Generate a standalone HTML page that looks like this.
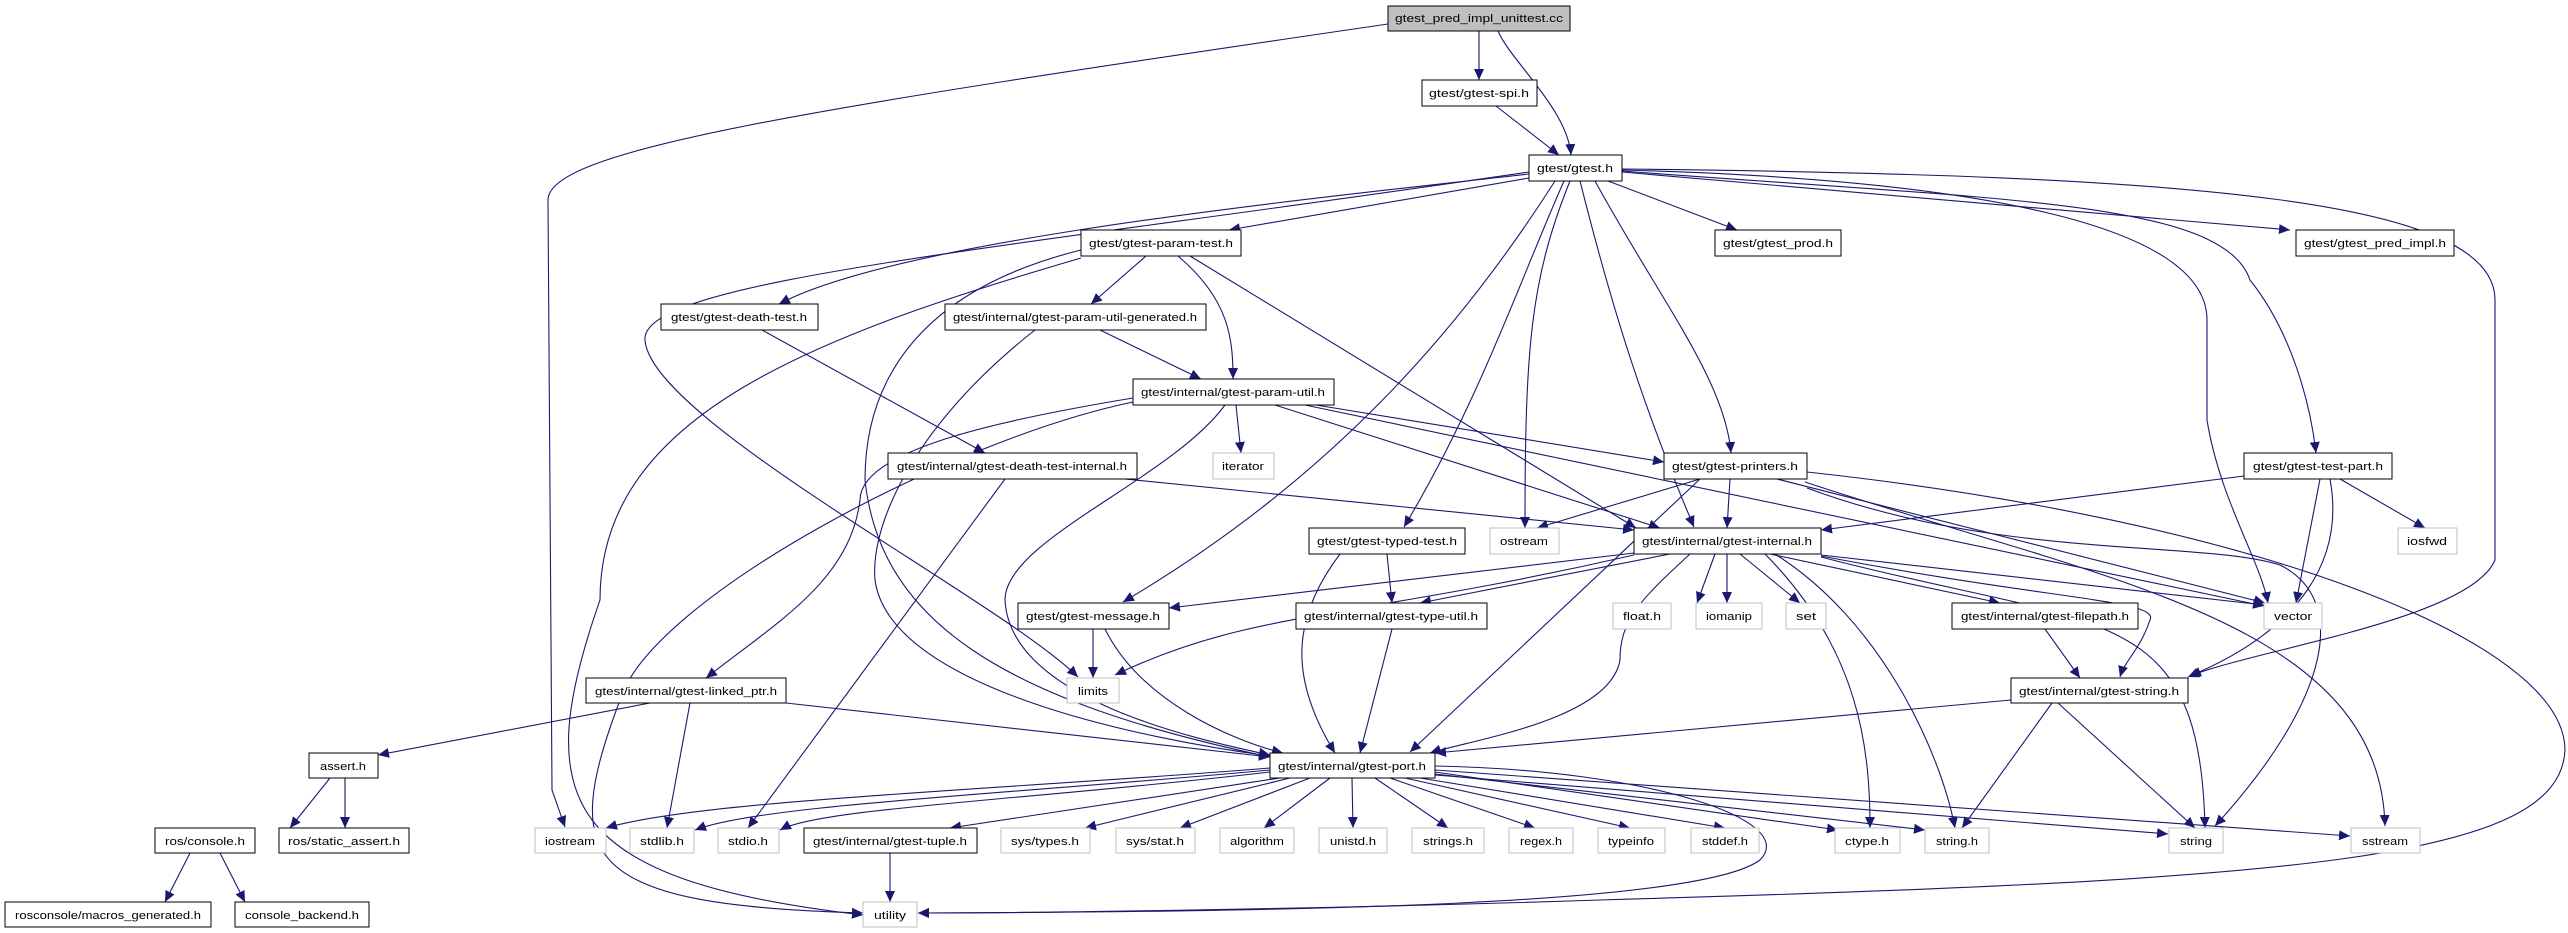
<!DOCTYPE html>
<html><head><meta charset="utf-8"><style>
html,body{margin:0;padding:0;background:#fff;}
svg{display:block;}
text{font-family:"Liberation Sans",sans-serif;font-size:11px;fill:#000;}
</style></head><body>
<svg width="2568" height="933" viewBox="0 0 2568 933" xmlns="http://www.w3.org/2000/svg">
<defs>
<marker id="a" markerUnits="userSpaceOnUse" markerWidth="12" markerHeight="10" refX="11" refY="5" orient="auto">
<path d="M0,0 L11,5 L0,10 z" fill="#191970"/>
</marker>
</defs>
<g fill="none" stroke="#191970" stroke-width="1.1" marker-end="url(#a)">
<!-- root -->
<path d="M1388,24 C800,110 548,150 548,200 L552,790 L565,827"/>
<path d="M1479,31 L1479,80"/>
<path d="M1498,31 C1510,60 1568,110 1571,155"/>
<path d="M1496,106 L1559,155"/>
<!-- gtest.h -->
<path d="M1529,178 L1229,230"/>
<path d="M1529,174 C1300,200 900,240 779,304"/>
<path d="M1529,172 C1000,250 640,280 645,340 C650,420 1000,600 1078,677"/>
<path d="M1555,181 C1460,330 1330,480 1123,602"/>
<path d="M1564,181 C1520,280 1480,400 1404,527"/>
<path d="M1570,181 C1530,280 1525,350 1525,528"/>
<path d="M1580,181 C1610,300 1640,400 1694,527"/>
<path d="M1595,181 C1660,300 1725,380 1731,453"/>
<path d="M1608,181 L1737,230"/>
<path d="M1622,172 L2290,230"/>
<path d="M1622,170 C2000,180 2207,230 2207,320 L2207,420 C2220,500 2260,560 2268,603"/>
<path d="M1622,171 C2000,200 2223,200 2250,280 C2290,330 2310,400 2316,453"/>
<path d="M1622,169 C2200,175 2495,200 2495,300 L2495,560 C2470,620 2250,650 2188,677"/>
<!-- param-test -->
<path d="M1081,250 C920,290 865,380 865,480 C880,620 1000,700 1270,757"/>
<path d="M1081,258 C800,340 600,420 600,600 C530,800 560,880 863,915"/>
<path d="M1146,256 L1091,304"/>
<path d="M1178,256 C1230,300 1233,340 1233,379"/>
<path d="M1190,256 L1636,528"/>
<!-- death-test -->
<path d="M762,330 L985,453"/>
<!-- generated -->
<path d="M1100,330 L1201,379"/>
<path d="M1035,330 C920,420 870,520 875,580 C890,690 1150,740 1270,756"/>
<!-- param-util -->
<path d="M1236,405 L1241,453"/>
<path d="M1133,398 C1000,420 860,450 860,500 C850,580 780,620 706,678"/>
<path d="M1133,402 C950,440 650,600 620,700 C560,860 580,905 863,913"/>
<path d="M1225,405 C1170,480 1005,540 1005,600 C1010,700 1200,740 1270,755"/>
<path d="M1275,405 L1660,528"/>
<path d="M1316,405 L1664,462"/>
<path d="M1305,405 L2264,606"/>
<!-- death-test-internal -->
<path d="M1125,479 L1634,530"/>
<path d="M1005,479 L748,828"/>
<!-- printers -->
<path d="M1700,479 L1537,528"/>
<path d="M1700,479 L1410,752"/>
<path d="M1730,479 L1727,528"/>
<path d="M1777,479 L2265,603"/>
<path d="M1807,488 C2000,560 2200,540 2280,565 C2350,600 2330,700 2215,826"/>
<path d="M1805,482 C2100,580 2380,620 2385,826"/>
<path d="M1807,472 C2250,520 2565,640 2565,750 C2560,860 2300,880 1600,900 C1300,910 1000,913 918,913"/>
<!-- test-part -->
<path d="M2244,476 L1821,530"/>
<path d="M2320,479 L2296,603"/>
<path d="M2340,479 L2425,528"/>
<path d="M2330,479 C2345,560 2300,630 2190,676"/>
<!-- typed-test -->
<path d="M1387,554 L1392,603"/>
<path d="M1340,554 C1290,620 1290,680 1335,753"/>
<!-- gtest-internal -->
<path d="M1634,553 L1169,608"/>
<path d="M1634,555 C1350,620 1250,610 1115,675"/>
<path d="M1670,554 L1420,603"/>
<path d="M1690,554 C1640,600 1620,620 1620,660 C1610,720 1470,740 1430,753"/>
<path d="M1715,554 L1697,603"/>
<path d="M1727,554 L1727,603"/>
<path d="M1740,554 L1800,603"/>
<path d="M1770,554 L2000,603"/>
<path d="M1765,554 C1860,650 1870,750 1870,828"/>
<path d="M1775,554 C1880,620 1940,750 1955,828"/>
<path d="M1821,555 L2264,605"/>
<path d="M1821,556 C2050,600 2160,600 2150,620 C2140,650 2125,660 2120,677"/>
<path d="M1821,557 C2100,630 2200,600 2205,828"/>
<!-- message / type-util / filepath -->
<path d="M1093,629 L1093,678"/>
<path d="M1105,629 C1140,700 1230,740 1283,753"/>
<path d="M1392,629 L1360,753"/>
<path d="M2045,629 L2080,678"/>
<!-- linked_ptr -->
<path d="M650,703 L378,755"/>
<path d="M690,703 L667,828"/>
<path d="M786,703 L1270,757"/>
<!-- gtest-string -->
<path d="M2011,700 L1435,753"/>
<path d="M2052,703 L1962,828"/>
<path d="M2058,703 L2195,828"/>
<!-- assert / ros -->
<path d="M330,778 L290,828"/>
<path d="M345,778 L345,828"/>
<path d="M190,853 L165,902"/>
<path d="M220,853 L245,902"/>
<path d="M890,853 L890,902"/>
<!-- gtest-port -->
<path d="M1270,768 C1000,790 700,800 606,828"/>
<path d="M1270,770 C1000,795 760,805 695,830"/>
<path d="M1270,772 C1030,800 820,808 780,830"/>
<path d="M1280,778 L950,828"/>
<path d="M1290,778 L1085,828"/>
<path d="M1310,778 L1180,828"/>
<path d="M1330,778 L1264,828"/>
<path d="M1352,778 L1353,828"/>
<path d="M1375,778 L1448,828"/>
<path d="M1390,778 L1535,828"/>
<path d="M1405,778 L1630,828"/>
<path d="M1420,778 L1725,828"/>
<path d="M1435,772 L1838,830"/>
<path d="M1435,774 L1925,830"/>
<path d="M1435,775 L2168,834"/>
<path d="M1435,770 L2350,836"/>
<path d="M1435,766 C1650,770 1800,820 1760,860 C1700,905 1300,912 918,913"/>
</g>
<g id="nodes">
<!-- black nodes -->
<g fill="#fff" stroke="#000" stroke-width="1">
<rect x="1388" y="6" width="182" height="25" fill="#bfbfbf"/>
<rect x="1422" y="80" width="115" height="26"/>
<rect x="1529" y="155" width="93" height="26"/>
<rect x="1081" y="230" width="160" height="26"/>
<rect x="1715" y="230" width="126" height="26"/>
<rect x="2296" y="230" width="158" height="26"/>
<rect x="661" y="304" width="157" height="26"/>
<rect x="945" y="304" width="261" height="26"/>
<rect x="1133" y="379" width="201" height="26"/>
<rect x="888" y="453" width="249" height="26"/>
<rect x="1664" y="453" width="143" height="26"/>
<rect x="2244" y="453" width="148" height="26"/>
<rect x="1309" y="528" width="156" height="26"/>
<rect x="1634" y="528" width="187" height="26"/>
<rect x="1018" y="603" width="151" height="26"/>
<rect x="1296" y="603" width="191" height="26"/>
<rect x="1952" y="603" width="186" height="26"/>
<rect x="586" y="678" width="200" height="25"/>
<rect x="2011" y="678" width="177" height="25"/>
<rect x="309" y="753" width="69" height="25"/>
<rect x="1270" y="753" width="165" height="25"/>
<rect x="155" y="828" width="100" height="25"/>
<rect x="279" y="828" width="130" height="25"/>
<rect x="804" y="828" width="173" height="25"/>
<rect x="5" y="902" width="206" height="25"/>
<rect x="235" y="902" width="134" height="25"/>
</g>
<!-- gray nodes -->
<g fill="#fff" stroke="#bfbfbf" stroke-width="1">
<rect x="1213" y="453" width="61" height="26"/>
<rect x="1490" y="528" width="69" height="26"/>
<rect x="2398" y="528" width="59" height="26"/>
<rect x="1613" y="603" width="58" height="26"/>
<rect x="1696" y="603" width="66" height="26"/>
<rect x="1786" y="603" width="40" height="26"/>
<rect x="2264" y="603" width="58" height="26"/>
<rect x="1067" y="678" width="52" height="25"/>
<rect x="535" y="828" width="71" height="25"/>
<rect x="630" y="828" width="64" height="25"/>
<rect x="718" y="828" width="61" height="25"/>
<rect x="1001" y="828" width="89" height="25"/>
<rect x="1116" y="828" width="79" height="25"/>
<rect x="1220" y="828" width="74" height="25"/>
<rect x="1319" y="828" width="68" height="25"/>
<rect x="1412" y="828" width="72" height="25"/>
<rect x="1509" y="828" width="64" height="25"/>
<rect x="1598" y="828" width="67" height="25"/>
<rect x="1691" y="828" width="68" height="25"/>
<rect x="1835" y="828" width="65" height="25"/>
<rect x="1925" y="828" width="64" height="25"/>
<rect x="2169" y="828" width="54" height="25"/>
<rect x="2351" y="828" width="69" height="25"/>
<rect x="863" y="902" width="54" height="25"/>
</g>
</g>
<g text-anchor="middle" lengthAdjust="spacingAndGlyphs">
<text x="1479" y="22" textLength="168" lengthAdjust="spacingAndGlyphs">gtest_pred_impl_unittest.cc</text>
<text x="1479" y="97" textLength="100" lengthAdjust="spacingAndGlyphs">gtest/gtest-spi.h</text>
<text x="1575" y="172" textLength="76" lengthAdjust="spacingAndGlyphs">gtest/gtest.h</text>
<text x="1161" y="247" textLength="144" lengthAdjust="spacingAndGlyphs">gtest/gtest-param-test.h</text>
<text x="1778" y="247" textLength="110" lengthAdjust="spacingAndGlyphs">gtest/gtest_prod.h</text>
<text x="2375" y="247" textLength="142" lengthAdjust="spacingAndGlyphs">gtest/gtest_pred_impl.h</text>
<text x="739" y="321" textLength="136" lengthAdjust="spacingAndGlyphs">gtest/gtest-death-test.h</text>
<text x="1075" y="321" textLength="244" lengthAdjust="spacingAndGlyphs">gtest/internal/gtest-param-util-generated.h</text>
<text x="1233" y="396" textLength="184" lengthAdjust="spacingAndGlyphs">gtest/internal/gtest-param-util.h</text>
<text x="1012" y="470" textLength="230" lengthAdjust="spacingAndGlyphs">gtest/internal/gtest-death-test-internal.h</text>
<text x="1243" y="470" textLength="42" lengthAdjust="spacingAndGlyphs">iterator</text>
<text x="1735" y="470" textLength="126" lengthAdjust="spacingAndGlyphs">gtest/gtest-printers.h</text>
<text x="2318" y="470" textLength="130" lengthAdjust="spacingAndGlyphs">gtest/gtest-test-part.h</text>
<text x="1387" y="545" textLength="140" lengthAdjust="spacingAndGlyphs">gtest/gtest-typed-test.h</text>
<text x="1524" y="545" textLength="48" lengthAdjust="spacingAndGlyphs">ostream</text>
<text x="1727" y="545" textLength="170" lengthAdjust="spacingAndGlyphs">gtest/internal/gtest-internal.h</text>
<text x="2427" y="545" textLength="40" lengthAdjust="spacingAndGlyphs">iosfwd</text>
<text x="1093" y="620" textLength="134" lengthAdjust="spacingAndGlyphs">gtest/gtest-message.h</text>
<text x="1391" y="620" textLength="174" lengthAdjust="spacingAndGlyphs">gtest/internal/gtest-type-util.h</text>
<text x="1642" y="620" textLength="38" lengthAdjust="spacingAndGlyphs">float.h</text>
<text x="1729" y="620" textLength="46" lengthAdjust="spacingAndGlyphs">iomanip</text>
<text x="1806" y="620" textLength="20" lengthAdjust="spacingAndGlyphs">set</text>
<text x="2045" y="620" textLength="168" lengthAdjust="spacingAndGlyphs">gtest/internal/gtest-filepath.h</text>
<text x="2293" y="620" textLength="38" lengthAdjust="spacingAndGlyphs">vector</text>
<text x="686" y="695" textLength="182" lengthAdjust="spacingAndGlyphs">gtest/internal/gtest-linked_ptr.h</text>
<text x="1093" y="695" textLength="30" lengthAdjust="spacingAndGlyphs">limits</text>
<text x="2099" y="695" textLength="160" lengthAdjust="spacingAndGlyphs">gtest/internal/gtest-string.h</text>
<text x="343" y="770" textLength="46" lengthAdjust="spacingAndGlyphs">assert.h</text>
<text x="1352" y="770" textLength="148" lengthAdjust="spacingAndGlyphs">gtest/internal/gtest-port.h</text>
<text x="205" y="845" textLength="80" lengthAdjust="spacingAndGlyphs">ros/console.h</text>
<text x="344" y="845" textLength="112" lengthAdjust="spacingAndGlyphs">ros/static_assert.h</text>
<text x="570" y="845" textLength="50" lengthAdjust="spacingAndGlyphs">iostream</text>
<text x="662" y="845" textLength="44" lengthAdjust="spacingAndGlyphs">stdlib.h</text>
<text x="748" y="845" textLength="40" lengthAdjust="spacingAndGlyphs">stdio.h</text>
<text x="890" y="845" textLength="154" lengthAdjust="spacingAndGlyphs">gtest/internal/gtest-tuple.h</text>
<text x="1045" y="845" textLength="68" lengthAdjust="spacingAndGlyphs">sys/types.h</text>
<text x="1155" y="845" textLength="58" lengthAdjust="spacingAndGlyphs">sys/stat.h</text>
<text x="1257" y="845" textLength="54" lengthAdjust="spacingAndGlyphs">algorithm</text>
<text x="1353" y="845" textLength="46" lengthAdjust="spacingAndGlyphs">unistd.h</text>
<text x="1448" y="845" textLength="50" lengthAdjust="spacingAndGlyphs">strings.h</text>
<text x="1541" y="845" textLength="42" lengthAdjust="spacingAndGlyphs">regex.h</text>
<text x="1631" y="845" textLength="46" lengthAdjust="spacingAndGlyphs">typeinfo</text>
<text x="1725" y="845" textLength="46" lengthAdjust="spacingAndGlyphs">stddef.h</text>
<text x="1867" y="845" textLength="44" lengthAdjust="spacingAndGlyphs">ctype.h</text>
<text x="1957" y="845" textLength="42" lengthAdjust="spacingAndGlyphs">string.h</text>
<text x="2196" y="845" textLength="32" lengthAdjust="spacingAndGlyphs">string</text>
<text x="2385" y="845" textLength="46" lengthAdjust="spacingAndGlyphs">sstream</text>
<text x="108" y="919" textLength="186" lengthAdjust="spacingAndGlyphs">rosconsole/macros_generated.h</text>
<text x="302" y="919" textLength="114" lengthAdjust="spacingAndGlyphs">console_backend.h</text>
<text x="890" y="919" textLength="32" lengthAdjust="spacingAndGlyphs">utility</text>
</g>
</svg>
</body></html>
